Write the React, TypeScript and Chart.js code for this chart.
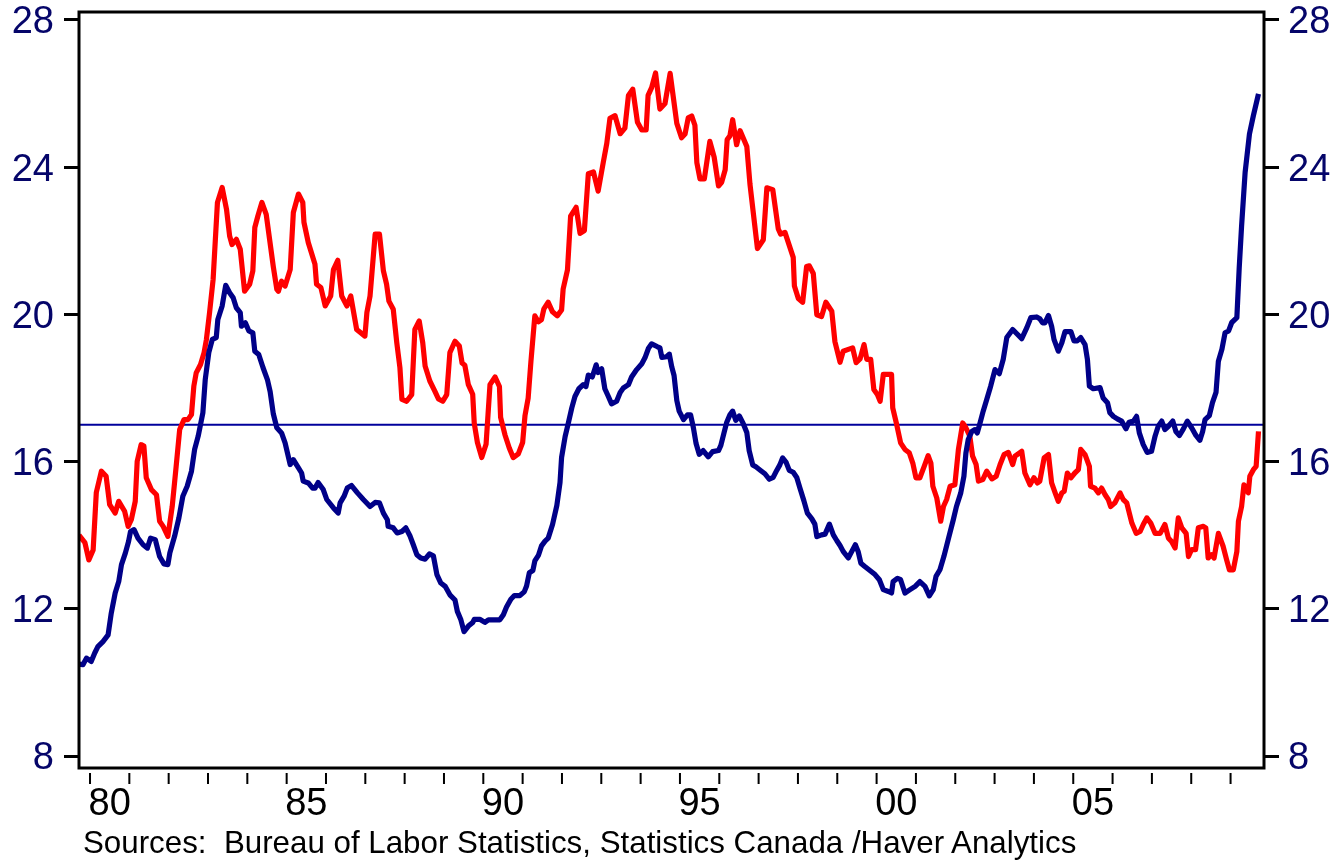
import React, { useEffect, useRef } from 'react';
import { Chart, registerables } from 'chart.js';

Chart.register(...registerables);

// Red series: [decimal year, value]
const redSeries: [number, number][] = [
  [1979.72, 14.0], [1979.87, 13.8], [1979.97, 13.33], [1980.08, 13.6], [1980.16, 15.16], [1980.29, 15.74], [1980.41, 15.6],
  [1980.50, 14.83], [1980.64, 14.6], [1980.73, 14.92], [1980.88, 14.65], [1980.97, 14.24], [1981.05, 14.42], [1981.15, 14.92],
  [1981.20, 16.01], [1981.30, 16.46], [1981.37, 16.42], [1981.43, 15.56], [1981.56, 15.24], [1981.69, 15.10], [1981.77, 14.38],
  [1981.86, 14.24], [1981.98, 13.97], [1982.09, 14.78], [1982.19, 15.87], [1982.28, 16.87], [1982.39, 17.14], [1982.49, 17.14],
  [1982.58, 17.28], [1982.64, 18.05], [1982.70, 18.41], [1982.81, 18.64], [1982.90, 18.96], [1982.96, 19.32], [1983.04, 20.05],
  [1983.13, 20.95], [1983.24, 23.04], [1983.36, 23.45], [1983.47, 22.86], [1983.55, 22.13], [1983.61, 21.9], [1983.72, 22.04],
  [1983.82, 21.77], [1983.93, 20.63], [1984.06, 20.82], [1984.14, 21.18], [1984.19, 22.36], [1984.27, 22.68], [1984.37, 23.04],
  [1984.48, 22.72], [1984.66, 21.3], [1984.75, 20.68], [1984.79, 20.63], [1984.87, 20.9], [1984.96, 20.77], [1985.09, 21.22],
  [1985.17, 22.77], [1985.30, 23.27], [1985.41, 23.04], [1985.44, 22.5], [1985.55, 21.95], [1985.72, 21.36], [1985.76, 20.82],
  [1985.87, 20.73], [1985.98, 20.23], [1986.12, 20.5], [1986.19, 21.22], [1986.30, 21.47], [1986.40, 20.5], [1986.53, 20.23],
  [1986.63, 20.5], [1986.78, 19.59], [1986.99, 19.41], [1987.04, 20.05], [1987.12, 20.5], [1987.25, 22.18], [1987.36, 22.18],
  [1987.46, 21.18], [1987.54, 20.82], [1987.60, 20.36], [1987.71, 20.14], [1987.80, 19.23], [1987.88, 18.55], [1987.93, 17.69],
  [1988.05, 17.64], [1988.18, 17.82], [1988.26, 19.59], [1988.37, 19.82], [1988.46, 19.23], [1988.52, 18.6], [1988.64, 18.19],
  [1988.77, 17.91], [1988.86, 17.70], [1988.97, 17.64], [1989.07, 17.82], [1989.15, 18.96], [1989.28, 19.27], [1989.39, 19.14],
  [1989.46, 18.68], [1989.53, 18.62], [1989.62, 18.09], [1989.73, 17.83], [1989.77, 17.04], [1989.85, 16.52], [1989.96, 16.11],
  [1990.07, 16.47], [1990.17, 18.09], [1990.30, 18.30], [1990.41, 18.04], [1990.44, 17.2], [1990.55, 16.73], [1990.66, 16.37],
  [1990.76, 16.11], [1990.89, 16.21], [1991.00, 16.52], [1991.06, 17.25], [1991.14, 17.72], [1991.21, 18.71], [1991.31, 19.96],
  [1991.40, 19.80], [1991.48, 19.86], [1991.54, 20.15], [1991.65, 20.33], [1991.76, 20.07], [1991.88, 19.96], [1991.99, 20.12],
  [1992.03, 20.69], [1992.14, 21.21], [1992.22, 22.67], [1992.36, 22.91], [1992.46, 22.2], [1992.57, 22.28], [1992.67, 23.82],
  [1992.80, 23.87], [1992.92, 23.35], [1993.05, 24.13], [1993.14, 24.65], [1993.22, 25.33], [1993.35, 25.40], [1993.48, 24.91],
  [1993.60, 25.06], [1993.69, 25.95], [1993.80, 26.12], [1993.92, 25.22], [1994.03, 25.01], [1994.14, 25.01], [1994.19, 25.95],
  [1994.28, 26.16], [1994.38, 26.56], [1994.49, 25.58], [1994.62, 25.73], [1994.75, 26.55], [1994.92, 25.19], [1995.04, 24.80],
  [1995.13, 24.90], [1995.21, 25.34], [1995.30, 25.39], [1995.38, 25.14], [1995.43, 24.12], [1995.51, 23.68], [1995.62, 23.68],
  [1995.76, 24.70], [1995.87, 24.27], [1995.98, 23.49], [1996.06, 23.59], [1996.15, 23.93], [1996.20, 24.75], [1996.27, 24.85],
  [1996.34, 25.29], [1996.44, 24.61], [1996.53, 24.99], [1996.70, 24.56], [1996.78, 23.54], [1996.97, 21.79], [1997.12, 22.03],
  [1997.21, 23.44], [1997.36, 23.39], [1997.50, 22.32], [1997.56, 22.18], [1997.67, 22.23], [1997.88, 21.55], [1997.91, 20.77],
  [1998.01, 20.43], [1998.12, 20.33], [1998.22, 21.30], [1998.29, 21.32], [1998.39, 21.11], [1998.48, 19.99], [1998.60, 19.94],
  [1998.71, 20.33], [1998.86, 20.09], [1998.94, 19.26], [1999.07, 18.7], [1999.15, 19.0], [1999.28, 19.05], [1999.39, 19.09],
  [1999.48, 18.69], [1999.58, 18.79], [1999.68, 19.18], [1999.75, 18.78], [1999.85, 18.78], [1999.93, 17.96], [2000.02, 17.82],
  [2000.09, 17.64], [2000.17, 18.37], [2000.38, 18.37], [2000.41, 17.46], [2000.51, 17.01], [2000.61, 16.51], [2000.72, 16.33],
  [2000.83, 16.24], [2000.92, 15.96], [2001.00, 15.56], [2001.10, 15.56], [2001.21, 15.87], [2001.31, 16.16], [2001.38, 15.96],
  [2001.43, 15.33], [2001.53, 15.01], [2001.63, 14.38], [2001.70, 14.78], [2001.78, 14.97], [2001.87, 15.33], [2001.99, 15.37],
  [2002.08, 16.33], [2002.19, 17.05], [2002.27, 16.92], [2002.37, 16.69], [2002.44, 16.15], [2002.53, 15.92], [2002.59, 15.47],
  [2002.70, 15.51], [2002.80, 15.74], [2002.93, 15.53], [2003.04, 15.6], [2003.14, 15.92], [2003.24, 16.19], [2003.35, 16.25],
  [2003.46, 15.92], [2003.52, 16.15], [2003.69, 16.28], [2003.77, 15.69], [2003.90, 15.37], [2004.00, 15.56], [2004.09, 15.42],
  [2004.15, 15.47], [2004.26, 16.10], [2004.37, 16.19], [2004.45, 15.42], [2004.54, 15.15], [2004.62, 14.92], [2004.71, 15.15],
  [2004.77, 15.19], [2004.85, 15.69], [2004.94, 15.56], [2005.04, 15.69], [2005.13, 15.78], [2005.19, 16.33], [2005.30, 16.19],
  [2005.41, 15.87], [2005.44, 15.33], [2005.55, 15.28], [2005.64, 15.15], [2005.72, 15.28], [2005.81, 15.10], [2005.89, 14.97],
  [2005.95, 14.78], [2006.06, 14.88], [2006.19, 15.15], [2006.27, 14.97], [2006.36, 14.88], [2006.49, 14.33], [2006.60, 14.05],
  [2006.70, 14.10], [2006.78, 14.29], [2006.87, 14.47], [2006.97, 14.33], [2007.08, 14.05], [2007.21, 14.05], [2007.33, 14.29],
  [2007.42, 13.92], [2007.50, 13.83], [2007.59, 13.65], [2007.67, 14.47], [2007.76, 14.20], [2007.87, 14.05], [2007.93, 13.42],
  [2008.01, 13.61], [2008.11, 13.61], [2008.18, 14.20], [2008.31, 14.24], [2008.37, 14.20], [2008.43, 13.38], [2008.52, 13.47],
  [2008.58, 13.38], [2008.69, 14.05], [2008.81, 13.70], [2008.90, 13.33], [2008.97, 13.06], [2009.07, 13.06], [2009.16, 13.56],
  [2009.20, 14.38], [2009.28, 14.78], [2009.34, 15.37], [2009.45, 15.15], [2009.49, 15.6], [2009.58, 15.78], [2009.65, 15.87],
  [2009.71, 16.82],
];

// Blue series: [decimal year, value]
const blueSeries: [number, number][] = [
  [1979.72, 10.5], [1979.82, 10.48], [1979.91, 10.66], [1980.03, 10.57], [1980.12, 10.80], [1980.20, 10.97], [1980.33, 11.11],
  [1980.46, 11.29], [1980.54, 11.88], [1980.64, 12.43], [1980.73, 12.74], [1980.80, 13.20], [1980.90, 13.52], [1980.98, 13.83],
  [1981.03, 14.10], [1981.12, 14.15], [1981.22, 13.92], [1981.35, 13.74], [1981.46, 13.65], [1981.54, 13.92], [1981.66, 13.88],
  [1981.77, 13.42], [1981.88, 13.22], [1981.98, 13.20], [1982.03, 13.52], [1982.15, 13.97], [1982.26, 14.47], [1982.36, 15.06],
  [1982.47, 15.33], [1982.58, 15.74], [1982.66, 16.33], [1982.75, 16.69], [1982.87, 17.33], [1982.93, 18.23], [1983.02, 18.96],
  [1983.11, 19.32], [1983.21, 19.37], [1983.25, 19.86], [1983.36, 20.23], [1983.45, 20.79], [1983.55, 20.59], [1983.64, 20.45],
  [1983.72, 20.18], [1983.82, 20.05], [1983.85, 19.68], [1983.95, 19.77], [1984.04, 19.55], [1984.14, 19.50], [1984.19, 19.0],
  [1984.29, 18.91], [1984.40, 18.55], [1984.51, 18.23], [1984.58, 17.9], [1984.66, 17.3], [1984.75, 16.92], [1984.87, 16.78],
  [1984.96, 16.51], [1985.09, 15.92], [1985.17, 16.05], [1985.30, 15.83], [1985.38, 15.69], [1985.42, 15.47], [1985.55, 15.42],
  [1985.66, 15.28], [1985.72, 15.28], [1985.80, 15.43], [1985.93, 15.24], [1986.02, 14.97], [1986.19, 14.74], [1986.31, 14.60],
  [1986.36, 14.88], [1986.46, 15.06], [1986.54, 15.28], [1986.65, 15.35], [1986.80, 15.15], [1986.95, 14.97], [1987.12, 14.78],
  [1987.25, 14.89], [1987.36, 14.88], [1987.46, 14.60], [1987.56, 14.42], [1987.58, 14.24], [1987.71, 14.20], [1987.81, 14.06],
  [1987.93, 14.10], [1988.03, 14.20], [1988.14, 13.97], [1988.22, 13.74], [1988.31, 13.47], [1988.41, 13.38], [1988.52, 13.35],
  [1988.63, 13.49], [1988.73, 13.44], [1988.82, 12.93], [1988.92, 12.70], [1989.03, 12.61], [1989.15, 12.38], [1989.28, 12.24],
  [1989.34, 11.93], [1989.43, 11.70], [1989.51, 11.38], [1989.62, 11.53], [1989.73, 11.63], [1989.77, 11.71], [1989.92, 11.71],
  [1990.04, 11.63], [1990.13, 11.70], [1990.42, 11.70], [1990.51, 11.84], [1990.59, 12.05], [1990.70, 12.26], [1990.79, 12.36],
  [1990.93, 12.36], [1991.04, 12.46], [1991.10, 12.62], [1991.17, 12.98], [1991.26, 13.04], [1991.31, 13.30], [1991.40, 13.45],
  [1991.48, 13.71], [1991.57, 13.84], [1991.65, 13.92], [1991.76, 14.29], [1991.87, 14.81], [1991.95, 15.43], [1991.99, 16.11],
  [1992.08, 16.68], [1992.16, 17.04], [1992.25, 17.46], [1992.33, 17.77], [1992.43, 17.98], [1992.54, 18.09], [1992.61, 18.04],
  [1992.67, 18.35], [1992.77, 18.30], [1992.87, 18.63], [1992.92, 18.42], [1993.01, 18.52], [1993.09, 17.98], [1993.18, 17.77],
  [1993.26, 17.57], [1993.39, 17.64], [1993.48, 17.88], [1993.56, 18.0], [1993.69, 18.09], [1993.77, 18.30], [1993.90, 18.50],
  [1994.03, 18.66], [1994.11, 18.82], [1994.20, 19.08], [1994.28, 19.20], [1994.43, 19.12], [1994.49, 19.09], [1994.54, 18.83],
  [1994.66, 18.85], [1994.73, 18.92], [1994.79, 18.58], [1994.85, 18.34], [1994.92, 17.66], [1994.98, 17.37], [1995.09, 17.14],
  [1995.19, 17.27], [1995.27, 17.27], [1995.34, 16.93], [1995.41, 16.49], [1995.49, 16.20], [1995.59, 16.30], [1995.72, 16.13],
  [1995.83, 16.27], [1995.98, 16.30], [1996.04, 16.44], [1996.12, 16.78], [1996.19, 17.07], [1996.27, 17.27], [1996.34, 17.37],
  [1996.42, 17.12], [1996.51, 17.24], [1996.61, 17.03], [1996.70, 16.79], [1996.76, 16.30], [1996.85, 15.91], [1996.93, 15.86],
  [1997.05, 15.76], [1997.16, 15.67], [1997.27, 15.52], [1997.37, 15.57], [1997.46, 15.76], [1997.54, 15.91], [1997.61, 16.10],
  [1997.70, 15.98], [1997.78, 15.76], [1997.88, 15.71], [1997.97, 15.57], [1998.05, 15.28], [1998.15, 14.94], [1998.24, 14.60],
  [1998.35, 14.45], [1998.43, 14.30], [1998.48, 13.96], [1998.60, 14.01], [1998.69, 14.03], [1998.80, 14.30], [1998.90, 14.01],
  [1998.99, 13.85], [1999.07, 13.72], [1999.15, 13.56], [1999.28, 13.38], [1999.37, 13.56], [1999.46, 13.74], [1999.53, 13.56],
  [1999.60, 13.24], [1999.70, 13.15], [1999.83, 13.04], [1999.96, 12.93], [2000.07, 12.79], [2000.17, 12.52], [2000.30, 12.47],
  [2000.38, 12.43], [2000.42, 12.74], [2000.53, 12.83], [2000.61, 12.79], [2000.72, 12.43], [2000.85, 12.52], [2000.98, 12.61],
  [2001.10, 12.74], [2001.23, 12.61], [2001.34, 12.35], [2001.44, 12.52], [2001.51, 12.88], [2001.61, 13.06], [2001.71, 13.42],
  [2001.82, 13.88], [2001.95, 14.42], [2002.03, 14.78], [2002.14, 15.15], [2002.22, 15.6], [2002.27, 16.23], [2002.33, 16.6],
  [2002.42, 16.82], [2002.50, 16.87], [2002.56, 16.78], [2002.63, 17.05], [2002.71, 17.37], [2002.80, 17.69], [2002.90, 18.05],
  [2003.01, 18.50], [2003.12, 18.39], [2003.22, 18.78], [2003.31, 19.37], [2003.46, 19.59], [2003.56, 19.48], [2003.69, 19.34],
  [2003.82, 19.64], [2003.92, 19.91], [2004.07, 19.93], [2004.15, 19.88], [2004.22, 19.77], [2004.28, 19.77], [2004.37, 19.97],
  [2004.45, 19.68], [2004.51, 19.32], [2004.62, 19.0], [2004.71, 19.23], [2004.79, 19.53], [2004.94, 19.53], [2005.02, 19.28],
  [2005.10, 19.28], [2005.19, 19.37], [2005.30, 19.18], [2005.36, 18.78], [2005.41, 18.05], [2005.51, 17.98], [2005.68, 18.01],
  [2005.76, 17.73], [2005.87, 17.60], [2005.93, 17.33], [2006.02, 17.23], [2006.12, 17.16], [2006.23, 17.10], [2006.34, 16.89],
  [2006.42, 17.07], [2006.53, 17.10], [2006.61, 17.23], [2006.68, 16.78], [2006.78, 16.46], [2006.88, 16.25], [2006.99, 16.28],
  [2007.08, 16.69], [2007.16, 16.96], [2007.25, 17.10], [2007.33, 16.87], [2007.42, 16.96], [2007.53, 17.10], [2007.61, 16.82],
  [2007.70, 16.71], [2007.80, 16.89], [2007.90, 17.10], [2008.01, 16.92], [2008.12, 16.71], [2008.22, 16.58], [2008.29, 16.82],
  [2008.35, 17.14], [2008.46, 17.25], [2008.54, 17.60], [2008.63, 17.88], [2008.69, 18.73], [2008.78, 19.05], [2008.86, 19.50],
  [2008.95, 19.55], [2009.03, 19.78], [2009.16, 19.91], [2009.22, 21.27], [2009.28, 22.40], [2009.37, 23.86], [2009.48, 24.90],
  [2009.58, 25.40], [2009.71, 25.99],
];

const referenceLevel = 17;
const yTickValues = [8, 12, 16, 20, 24, 28];
const xLabelYears = [1980, 1985, 1990, 1995, 2000, 2005];
const xTickYears = [
  1980, 1981, 1982, 1983, 1984, 1985, 1986, 1987, 1988, 1989,
  1990, 1991, 1992, 1993, 1994, 1995, 1996, 1997, 1998, 1999,
  2000, 2001, 2002, 2003, 2004, 2005, 2006, 2007, 2008, 2009,
];
const sourceText = 'Sources:  Bureau of Labor Statistics, Statistics Canada /Haver Analytics';

const X_MIN = 1979.72;
const X_MAX = 2009.85;
const Y_MIN = 7.674;
const Y_MAX = 28.217;

const FONT_FAMILY = "'Liberation Sans', Arial, Helvetica, sans-serif";

const frameAndYearTicks = {
  id: 'frameAndYearTicks',
  afterDraw(chart: any) {
    const { ctx, chartArea, scales } = chart;
    const xs = scales.x;
    ctx.save();
    ctx.strokeStyle = '#000000';
    ctx.lineWidth = 2;
    ctx.beginPath();
    for (const yr of xTickYears) {
      const px = xs.getPixelForValue(yr);
      ctx.moveTo(px, chartArea.bottom + 5);
      ctx.lineTo(px, chartArea.bottom + 16);
    }
    ctx.stroke();
    ctx.lineWidth = 3;
    ctx.strokeRect(
      chartArea.left,
      chartArea.top,
      chartArea.right - chartArea.left,
      chartArea.bottom - chartArea.top
    );
    ctx.restore();
  },
};

function yAxis(position: 'left' | 'right') {
  return {
    type: 'linear',
    position,
    min: Y_MIN,
    max: Y_MAX,
    afterBuildTicks: (scale: any) => {
      scale.ticks = yTickValues.map((v) => ({ value: v }));
    },
    afterFit: (scale: any) => {
      scale.width = position === 'left' ? 79 : 75;
      scale.paddingTop = 0;
      scale.paddingBottom = 0;
    },
    ticks: {
      color: '#050569',
      font: { family: FONT_FAMILY, size: 38 },
      padding: position === 'left' ? 10 : 9,
      labelOffset: 3,
      autoSkip: false,
      callback: (v: any) => String(v),
    },
    grid: {
      display: true,
      drawOnChartArea: false,
      drawTicks: true,
      tickLength: 15,
      lineWidth: 3,
      color: '#000000',
    },
    border: { display: false },
  };
}

export default function App() {
  const canvasRef = useRef<HTMLCanvasElement | null>(null);

  useEffect(() => {
    document.body.style.margin = '0';
    const canvas = canvasRef.current;
    if (!canvas) return;

    const chart = new Chart(canvas, {
      type: 'line',
      data: {
        datasets: [
          {
            label: 'Blue series',
            data: blueSeries.map(([x, y]) => ({ x, y })),
            borderColor: '#000088',
            borderWidth: 5.2,
            pointRadius: 0,
            tension: 0,
            fill: false,
            borderJoinStyle: 'round',
            borderCapStyle: 'butt',
            yAxisID: 'y',
          },
          {
            label: 'Red series',
            data: redSeries.map(([x, y]) => ({ x, y })),
            borderColor: '#ff0000',
            borderWidth: 5.2,
            pointRadius: 0,
            tension: 0,
            fill: false,
            borderJoinStyle: 'round',
            borderCapStyle: 'butt',
            yAxisID: 'y',
          },
          {
            label: 'Reference',
            data: [
              { x: X_MIN, y: referenceLevel },
              { x: X_MAX, y: referenceLevel },
            ],
            borderColor: '#00009c',
            borderWidth: 2,
            pointRadius: 0,
            tension: 0,
            fill: false,
            yAxisID: 'y',
          },
        ],
      },
      options: {
        responsive: false,
        animation: false,
        devicePixelRatio: 1,
        parsing: true,
        layout: { padding: { top: 12, left: 0, right: 0, bottom: 0 } },
        plugins: {
          legend: { display: false },
          tooltip: { enabled: false },
          title: { display: false },
        },
        scales: {
          x: {
            type: 'linear',
            position: 'bottom',
            min: X_MIN,
            max: X_MAX,
            afterBuildTicks: (scale: any) => {
              scale.ticks = xLabelYears.map((y) => ({ value: y + 0.5 }));
            },
            afterFit: (scale: any) => {
              scale.height = 93;
              scale.paddingLeft = 0;
              scale.paddingRight = 0;
            },
            ticks: {
              color: '#000000',
              font: { family: FONT_FAMILY, size: 38 },
              padding: 14,
              autoSkip: false,
              maxRotation: 0,
              minRotation: 0,
              callback: (v: any) => String(Math.floor(Number(v))).slice(2),
            },
            grid: { display: false, drawTicks: false, drawOnChartArea: false },
            border: { display: false },
          },
          y: yAxis('left'),
          y2: yAxis('right'),
        },
      } as any,
      plugins: [frameAndYearTicks],
    } as any);

    return () => {
      chart.destroy();
    };
  }, []);

  return (
    <div style={{ position: 'relative', width: 1339, height: 861, background: '#ffffff' }}>
      <canvas ref={canvasRef} width={1339} height={861} style={{ display: 'block' }} />
      <div
        style={{
          position: 'absolute',
          left: 83,
          top: 827,
          fontFamily: FONT_FAMILY,
          fontSize: 31.3,
          lineHeight: '31px',
          whiteSpace: 'pre',
          color: '#000000',
        }}
      >
        {sourceText}
      </div>
    </div>
  );
}
